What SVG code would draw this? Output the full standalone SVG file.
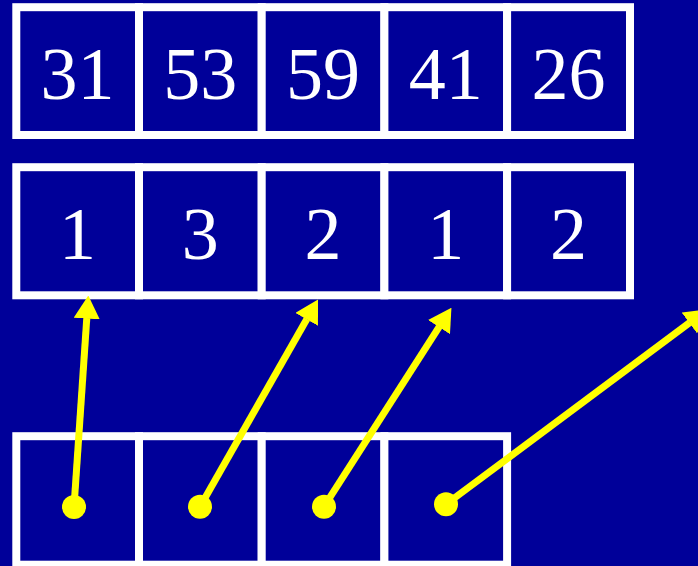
<svg xmlns="http://www.w3.org/2000/svg" width="698" height="566" viewBox="0 0 698 566">
  <style>
    .cell { fill: #000099; stroke: #ffffff; stroke-width: 8; }
    .num { font-family: "Liberation Serif", "Times New Roman", serif; font-size: 74px; fill: #ffffff; text-anchor: middle; }
    .arrow { stroke: #ffff00; stroke-width: 7; fill: none; marker-end: url(#ah); }
    .dot { fill: #ffff00; }
  </style>
  <defs>
    <marker id="ah" markerUnits="userSpaceOnUse" viewBox="0 0 23 26" markerWidth="23" markerHeight="26" refX="0.5" refY="13" orient="auto">
      <path d="M0,0 L23,13 L0,26 z" fill="#ffff00"/>
    </marker>
  </defs>
  <rect width="698" height="566" fill="#000099"/>

  <g id="keys">
    <g id="key0"><rect class="cell" x="16.3" y="7.2" width="122.7" height="127.8"/><text class="num" x="77.6" y="99">31</text></g>
    <g id="key1"><rect class="cell" x="139" y="7.2" width="122.7" height="127.8"/><text class="num" x="200.3" y="99">53</text></g>
    <g id="key2"><rect class="cell" x="261.7" y="7.2" width="122.7" height="127.8"/><text class="num" x="323" y="99">59</text></g>
    <g id="key3"><rect class="cell" x="384.4" y="7.2" width="122.7" height="127.8"/><text class="num" x="445.7" y="99">41</text></g>
    <g id="key4"><rect class="cell" x="507.1" y="7.2" width="122.9" height="127.8"/><text class="num" x="568.5" y="99">26</text></g>
  </g>

  <g id="counts">
    <g id="cnt0"><rect class="cell" x="16.3" y="167.2" width="122.7" height="128.1"/><text class="num" x="77.6" y="259">1</text></g>
    <g id="cnt1"><rect class="cell" x="139" y="167.2" width="122.7" height="128.1"/><text class="num" x="200.3" y="259">3</text></g>
    <g id="cnt2"><rect class="cell" x="261.7" y="167.2" width="122.7" height="128.1"/><text class="num" x="323" y="259">2</text></g>
    <g id="cnt3"><rect class="cell" x="384.4" y="167.2" width="122.7" height="128.1"/><text class="num" x="445.7" y="259">1</text></g>
    <g id="cnt4"><rect class="cell" x="507.1" y="167.2" width="122.9" height="128.1"/><text class="num" x="568.5" y="259">2</text></g>
  </g>

  <g id="pointers">
    <g id="ptr0"><rect class="cell" x="16.3" y="436.2" width="122.7" height="128.5"/></g>
    <g id="ptr1"><rect class="cell" x="139" y="436.2" width="122.7" height="128.5"/></g>
    <g id="ptr2"><rect class="cell" x="261.7" y="436.2" width="122.7" height="128.5"/></g>
    <g id="ptr3"><rect class="cell" x="384.4" y="436.2" width="122.7" height="128.5"/></g>
  </g>

  <g id="connectors">
    <line class="arrow" x1="74" y1="507" x2="86.8" y2="318"/>
    <line class="arrow" x1="200" y1="506.7" x2="306.9" y2="319"/>
    <line class="arrow" x1="324" y1="506.7" x2="439.3" y2="326.7"/>
    <line class="arrow" x1="446" y1="504.3" x2="689.7" y2="322.6"/>
    <circle class="dot" cx="74" cy="507" r="12"/>
    <circle class="dot" cx="200" cy="506.7" r="12"/>
    <circle class="dot" cx="324" cy="506.7" r="12"/>
    <circle class="dot" cx="446" cy="504.3" r="12"/>
  </g>
</svg>
